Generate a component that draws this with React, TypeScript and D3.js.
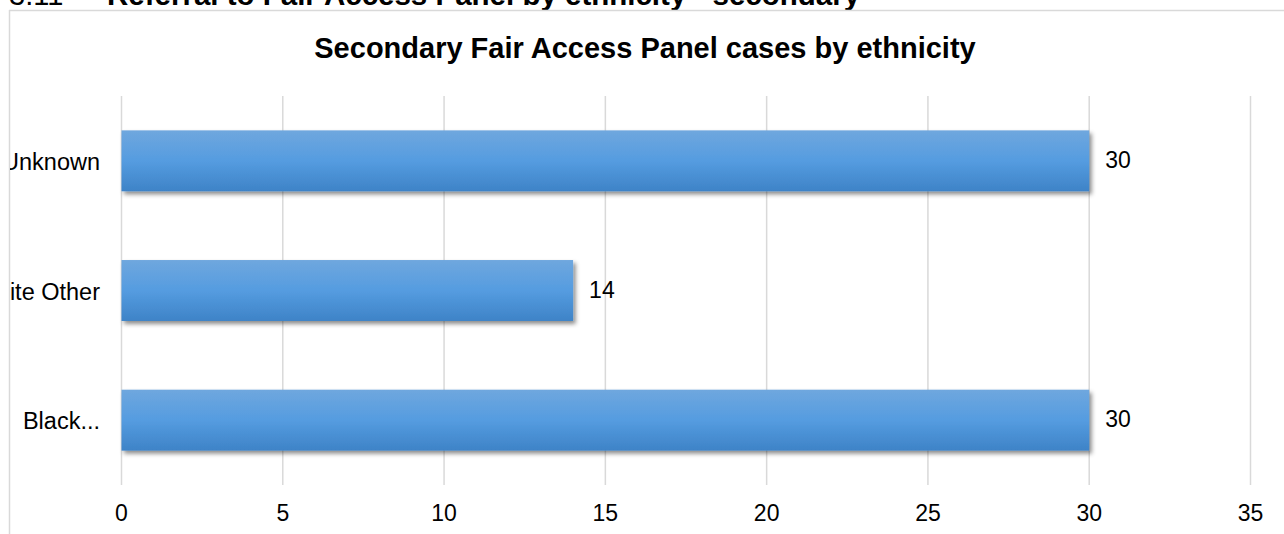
import React from 'react';
import * as d3 from 'd3';

const categories = ['Unknown', 'White Other', 'Black...'];
const values = [30, 14, 30];
const xTicks = [0, 5, 10, 15, 20, 25, 30, 35];

const W = 1284;
const H = 534;
const FONT = 'Liberation Sans, Arial, sans-serif';

export default function App() {
  //scales for the plot area
  const x = d3.scaleLinear().domain([0, 35]).range([121.5, 1250.5]);
  const y = d3
    .scaleBand<string>()
    .domain(categories)
    .range([96, 485])
    .paddingInner(0.53)
    .paddingOuter(0.265);

  const rows = categories.map((c, i) => ({ c, v: values[i] }));

  return (
    <svg
      width={W}
      height={H}
      style={{ position: 'absolute', left: 0, top: 0, background: '#fff' }}
      fontFamily={FONT}
    >
      <defs>
        <linearGradient id="barFill" x1="0" y1="0" x2="0" y2="1">
          <stop offset="0%" stopColor="#6fa7de" />
          <stop offset="50%" stopColor="#559ce0" />
          <stop offset="100%" stopColor="#3e83c7" />
        </linearGradient>
        <filter id="shadow" x="-5%" y="-20%" width="110%" height="150%">
          <feDropShadow dx="2.5" dy="3" stdDeviation="2" floodColor="#000" floodOpacity="0.45" />
        </filter>
        <clipPath id="chartClip">
          <rect x={10} y={11} width={W} height={H} />
        </clipPath>
      </defs>

      {/* section heading, cut off by the top of the page */}
      <text x={9} y={5} fontSize={29} fill="#000">3.11</text>
      <text x={107} y={5} fontSize={29.5} fontWeight="bold" fill="#000">
        Referral to Fair Access Panel by ethnicity - secondary
      </text>

      {/* chart frame */}
      <line x1={9} y1={10.5} x2={W} y2={10.5} stroke="#d9d9d9" strokeWidth={1.5} />
      <line x1={9.5} y1={10} x2={9.5} y2={H} stroke="#d9d9d9" strokeWidth={1.5} />

      <text x={645} y={58} textAnchor="middle" fontSize={29} fontWeight="bold" fill="#000">
        Secondary Fair Access Panel cases by ethnicity
      </text>

      {/* gridlines */}
      {xTicks.map(t => (
        <line key={t} x1={x(t)} x2={x(t)} y1={96} y2={485} stroke="#d9d9d9" strokeWidth={1.5} />
      ))}

      {/* bars */}
      {rows.map(r => (
        <rect
          key={r.c}
          x={x(0)}
          y={y(r.c)}
          width={x(r.v) - x(0)}
          height={y.bandwidth()}
          fill="url(#barFill)"
          filter="url(#shadow)"
        />
      ))}

      {/* value labels */}
      {rows.map(r => (
        <text
          key={r.c}
          x={x(r.v) + 16}
          y={(y(r.c) as number) + y.bandwidth() / 2 - 1}
          dominantBaseline="central"
          fontSize={23}
          fill="#000"
        >
          {r.v}
        </text>
      ))}

      {/* category labels */}
      <g clipPath="url(#chartClip)">
        {rows.map(r => (
          <text
            key={r.c}
            x={100}
            y={(y(r.c) as number) + y.bandwidth() / 2 + 1}
            textAnchor="end"
            dominantBaseline="central"
            fontSize={23.5}
            fill="#000"
          >
            {r.c}
          </text>
        ))}
      </g>

      {/* x tick labels */}
      {xTicks.map(t => (
        <text key={t} x={x(t)} y={521} textAnchor="middle" fontSize={23} fill="#000">
          {t}
        </text>
      ))}
    </svg>
  );
}
